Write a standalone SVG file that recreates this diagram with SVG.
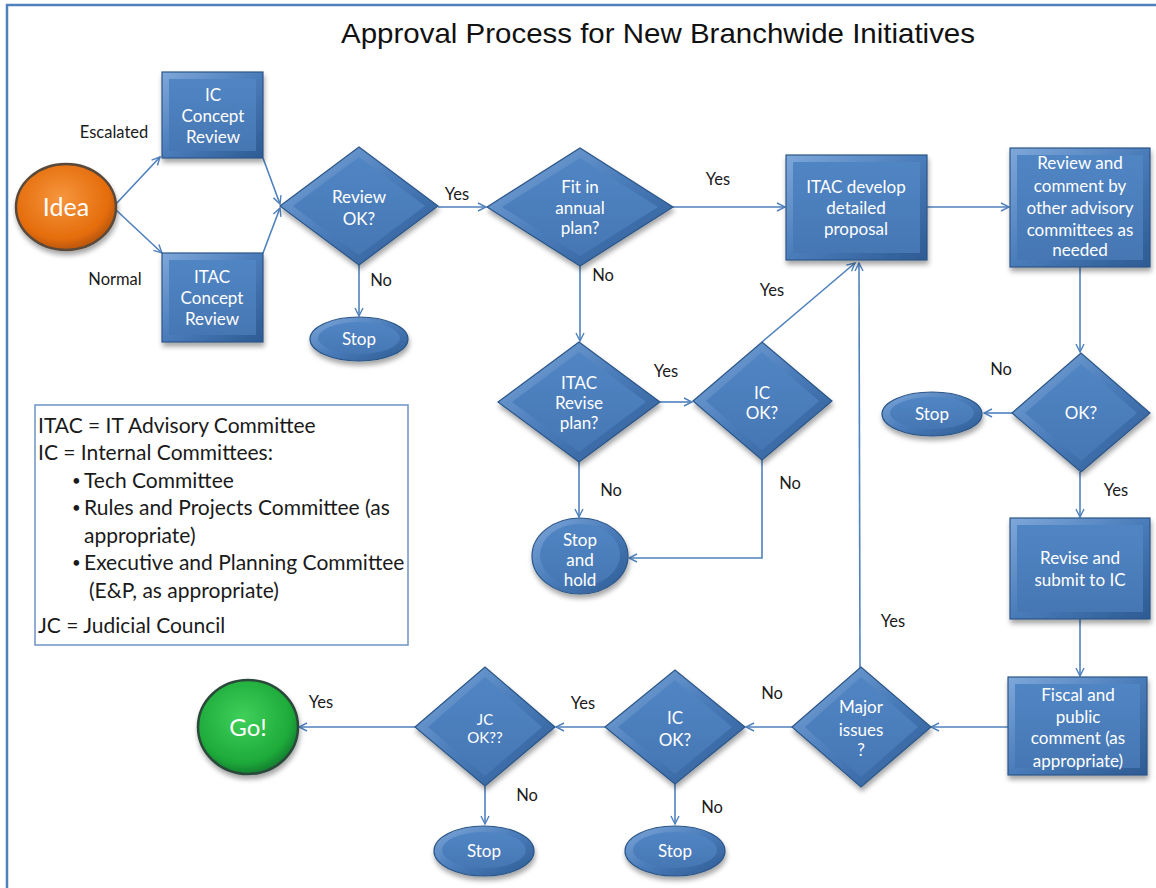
<svg xmlns="http://www.w3.org/2000/svg" width="1156" height="888" viewBox="0 0 1156 888">
<style>
.t{font-family:Lato,"Liberation Sans",sans-serif;font-size:17px;fill:#fff;text-anchor:middle}
.l{font-family:Lato,"Liberation Sans",sans-serif;font-size:16.5px;fill:#1a1a1a;text-anchor:middle}
.lg{font-family:Lato,"Liberation Sans",sans-serif;font-size:21px;fill:#1a1a1a}
.b{font-family:Lato,"Liberation Sans",sans-serif;font-size:15px;fill:#1a1a1a}
.c{fill:none;stroke:#4f81bd;stroke-width:1.6;marker-end:url(#ah)}
.o{fill:url(#bev);stroke:#2c5687;stroke-width:1.2;filter:url(#sh)}
.i{fill:url(#face);stroke:none}
</style>
<defs>
<linearGradient id="bev" x1="0" y1="0" x2="1" y2="1">
<stop offset="0" stop-color="#7fa8da"/><stop offset="0.5" stop-color="#4a7cba"/><stop offset="1" stop-color="#2d5a92"/>
</linearGradient>
<linearGradient id="face" x1="0" y1="0" x2="0" y2="1">
<stop offset="0" stop-color="#5085c4"/><stop offset="1" stop-color="#4677b3"/>
</linearGradient>
<radialGradient id="org" cx="0.45" cy="0.4" r="0.6">
<stop offset="0" stop-color="#f7963f"/><stop offset="0.8" stop-color="#e46c0a"/><stop offset="1" stop-color="#b85508"/>
</radialGradient>
<radialGradient id="grn" cx="0.45" cy="0.4" r="0.6">
<stop offset="0" stop-color="#3fd05a"/><stop offset="0.8" stop-color="#1eaa3a"/><stop offset="1" stop-color="#148030"/>
</radialGradient>
<filter id="sh" x="-20%" y="-20%" width="140%" height="150%">
<feDropShadow dx="1" dy="4" stdDeviation="2.5" flood-color="#000" flood-opacity="0.35"/>
</filter>
<marker id="ah" viewBox="0 0 10 10" refX="9" refY="5" markerWidth="10" markerHeight="10" markerUnits="userSpaceOnUse" orient="auto">
<path d="M1,1 L9,5 L1,9" fill="none" stroke="#4f81bd" stroke-width="1.4"/>
</marker>
</defs>
<rect width="1156" height="888" fill="#fff"/>
<path d="M7,888 V5 H1156" fill="none" stroke="#4f81bd" stroke-width="2.5"/>
<text x="658" y="43" font-family="Liberation Sans,Arial,sans-serif" font-size="28" fill="#111" text-anchor="middle" textLength="634" lengthAdjust="spacingAndGlyphs">Approval Process for New Branchwide Initiatives</text>

<g id="connectors">
<path class="c" d="M115,205 L160,157"/>
<path class="c" d="M115,209 L162,253"/>
<path class="c" d="M263,158 L280,204"/>
<path class="c" d="M263,253 L280,208"/>
<path class="c" d="M438,207 L486,207"/>
<path class="c" d="M359,265 L359,316"/>
<path class="c" d="M673,207 L785,207"/>
<path class="c" d="M580,265 L580,341"/>
<path class="c" d="M927,207 L1009,207"/>
<path class="c" d="M1080,267 L1080,352"/>
<path class="c" d="M1012,413 L984,413"/>
<path class="c" d="M1080,472 L1080,517"/>
<path class="c" d="M1080,619 L1080,676"/>
<path class="c" d="M660,402 L692,402"/>
<path class="c" d="M579,462 L579,517"/>
<path class="c" d="M762,460 L762,558 L629,558"/>
<path class="c" d="M762,342 L855,263"/>
<path class="c" d="M860,668 L859,263"/>
<path class="c" d="M1008,727 L931,727"/>
<path class="c" d="M792,727 L746,727"/>
<path class="c" d="M605,727 L556,727"/>
<path class="c" d="M415,727 L299,727"/>
<path class="c" d="M485,786 L485,824"/>
<path class="c" d="M675,784 L675,824"/>
</g>

<g id="labels">
<text class="l" x="114" y="138">Escalated</text>
<text class="l" x="115" y="285">Normal</text>
<text class="l" x="457" y="200">Yes</text>
<text class="l" x="381" y="286">No</text>
<text class="l" x="718" y="185">Yes</text>
<text class="l" x="603" y="281">No</text>
<text class="l" x="772" y="296">Yes</text>
<text class="l" x="666" y="377">Yes</text>
<text class="l" x="611" y="496">No</text>
<text class="l" x="790" y="489">No</text>
<text class="l" x="1001" y="375">No</text>
<text class="l" x="1116" y="496">Yes</text>
<text class="l" x="893" y="627">Yes</text>
<text class="l" x="772" y="699">No</text>
<text class="l" x="583" y="709">Yes</text>
<text class="l" x="321" y="708">Yes</text>
<text class="l" x="527" y="801">No</text>
<text class="l" x="712" y="813">No</text>
</g>

<g id="idea">
<ellipse cx="66" cy="207" rx="50" ry="43" fill="url(#org)" stroke="#5a4a3a" stroke-width="2.5" filter="url(#sh)"/>
<text x="66" y="216" font-family="Lato,'Liberation Sans',sans-serif" font-size="25" fill="#fff" text-anchor="middle">Idea</text>
</g>

<g id="ic-concept">
<rect class="o" x="162" y="72" width="101" height="86"/>
<rect class="i" x="169" y="79" width="87" height="72"/>
<text class="t" x="213" y="101">IC</text>
<text class="t" x="213" y="122">Concept</text>
<text class="t" x="213" y="143">Review</text>
</g>

<g id="itac-concept">
<rect class="o" x="162" y="253" width="101" height="89"/>
<rect class="i" x="169" y="260" width="87" height="75"/>
<text class="t" x="212" y="283">ITAC</text>
<text class="t" x="212" y="304">Concept</text>
<text class="t" x="212" y="325">Review</text>
</g>

<g id="review-ok">
<polygon class="o" points="280,206 359,147 438,206 359,265"/>
<polygon class="i" points="293,206 359,157 425,206 359,255"/>
<text class="t" x="359" y="203">Review</text>
<text class="t" x="359" y="225">OK?</text>
</g>

<g id="stop1">
<ellipse class="o" cx="359" cy="339" rx="49" ry="22"/>
<ellipse class="i" cx="359" cy="338" rx="41" ry="16"/>
<text class="t" x="359" y="345">Stop</text>
</g>

<g id="fit-plan">
<polygon class="o" points="487,207 580,148 673,207 580,266"/>
<polygon class="i" points="502,207 580,158 658,207 580,256"/>
<text class="t" x="580" y="193">Fit in</text>
<text class="t" x="580" y="214">annual</text>
<text class="t" x="580" y="234">plan?</text>
</g>

<g id="itac-develop">
<rect class="o" x="786" y="155" width="141" height="105"/>
<rect class="i" x="793" y="162" width="127" height="91"/>
<text class="t" x="856" y="193">ITAC develop</text>
<text class="t" x="856" y="214">detailed</text>
<text class="t" x="856" y="235">proposal</text>
</g>

<g id="review-comment">
<rect class="o" x="1010" y="148" width="140" height="119"/>
<rect class="i" x="1017" y="155" width="126" height="105"/>
<text class="t" x="1080" y="169">Review and</text>
<text class="t" x="1080" y="192">comment by</text>
<text class="t" x="1080" y="214">other advisory</text>
<text class="t" x="1080" y="236">committees as</text>
<text class="t" x="1080" y="256">needed</text>
</g>

<g id="ok">
<polygon class="o" points="1012,413 1081,353 1150,413 1081,472"/>
<polygon class="i" points="1025,413 1081,364 1137,413 1081,461"/>
<text class="t" x="1081" y="419">OK?</text>
</g>

<g id="stop2">
<ellipse class="o" cx="932" cy="414" rx="50" ry="22"/>
<ellipse class="i" cx="932" cy="413" rx="42" ry="16"/>
<text class="t" x="932" y="420">Stop</text>
</g>

<g id="revise-submit">
<rect class="o" x="1010" y="518" width="140" height="101"/>
<rect class="i" x="1017" y="525" width="126" height="87"/>
<text class="t" x="1080" y="564">Revise and</text>
<text class="t" x="1080" y="586">submit to IC</text>
</g>

<g id="fiscal">
<rect class="o" x="1008" y="677" width="139" height="98"/>
<rect class="i" x="1015" y="684" width="125" height="84"/>
<text class="t" x="1078" y="701">Fiscal and</text>
<text class="t" x="1078" y="723">public</text>
<text class="t" x="1078" y="744">comment (as</text>
<text class="t" x="1078" y="767">appropriate)</text>
</g>

<g id="itac-revise">
<polygon class="o" points="498,402 579,342 660,402 579,462"/>
<polygon class="i" points="512,402 579,352 646,402 579,452"/>
<text class="t" x="579" y="389">ITAC</text>
<text class="t" x="579" y="409">Revise</text>
<text class="t" x="579" y="429">plan?</text>
</g>

<g id="ic-ok-mid">
<polygon class="o" points="693,401 762,342 832,401 762,460"/>
<polygon class="i" points="706,401 762,352 819,401 762,450"/>
<text class="t" x="762" y="399">IC</text>
<text class="t" x="762" y="419">OK?</text>
</g>

<g id="stop-hold">
<ellipse class="o" cx="580" cy="556" rx="48" ry="38"/>
<ellipse class="i" cx="580" cy="555" rx="40" ry="31"/>
<text class="t" x="580" y="546">Stop</text>
<text class="t" x="580" y="566">and</text>
<text class="t" x="580" y="586">hold</text>
</g>

<g id="major-issues">
<polygon class="o" points="792,727 861,667 931,727 861,787"/>
<polygon class="i" points="805,727 861,677 918,727 861,777"/>
<text class="t" x="861" y="713">Major</text>
<text class="t" x="861" y="736">issues</text>
<text class="t" x="861" y="756">?</text>
</g>

<g id="ic-ok-bottom">
<polygon class="o" points="605,727 675,670 745,727 675,784"/>
<polygon class="i" points="618,727 675,680 732,727 675,774"/>
<text class="t" x="675" y="724">IC</text>
<text class="t" x="675" y="746">OK?</text>
</g>

<g id="stop3">
<ellipse class="o" cx="675" cy="851" rx="50" ry="25"/>
<ellipse class="i" cx="675" cy="850" rx="42" ry="18"/>
<text class="t" x="675" y="857">Stop</text>
</g>

<g id="jc-ok">
<polygon class="o" points="415,727 485,667 555,727 485,786"/>
<polygon class="i" points="428,727 485,677 542,727 485,776"/>
<text class="t" x="485" y="725" style="font-size:15px">JC</text>
<text class="t" x="485" y="743" style="font-size:15px">OK??</text>
</g>

<g id="stop4">
<ellipse class="o" cx="484" cy="851" rx="50" ry="25"/>
<ellipse class="i" cx="484" cy="850" rx="42" ry="18"/>
<text class="t" x="484" y="857">Stop</text>
</g>

<g id="go">
<ellipse cx="248" cy="727" rx="50" ry="47" fill="url(#grn)" stroke="#2a4a3a" stroke-width="2.5" filter="url(#sh)"/>
<text x="248" y="736" font-family="Lato,'Liberation Sans',sans-serif" font-size="24" fill="#fff" text-anchor="middle">Go!</text>
</g>

<g id="legend">
<rect x="35" y="405" width="373" height="240" fill="#fff" stroke="#6f93c4" stroke-width="1.5"/>
<text class="lg" x="38" y="433">ITAC = IT Advisory Committee</text>
<text class="lg" x="38" y="460">IC = Internal Committees:</text>
<text class="b" x="72" y="486">•</text>
<text class="lg" x="84" y="488">Tech Committee</text>
<text class="b" x="72" y="513">•</text>
<text class="lg" x="84" y="515">Rules and Projects Committee (as</text>
<text class="lg" x="84" y="543">appropriate)</text>
<text class="b" x="72" y="568">•</text>
<text class="lg" x="84" y="570">Executive and Planning Committee</text>
<text class="lg" x="89" y="598">(E&amp;P, as appropriate)</text>
<text class="lg" x="38" y="633">JC = Judicial Council</text>
</g>
</svg>
